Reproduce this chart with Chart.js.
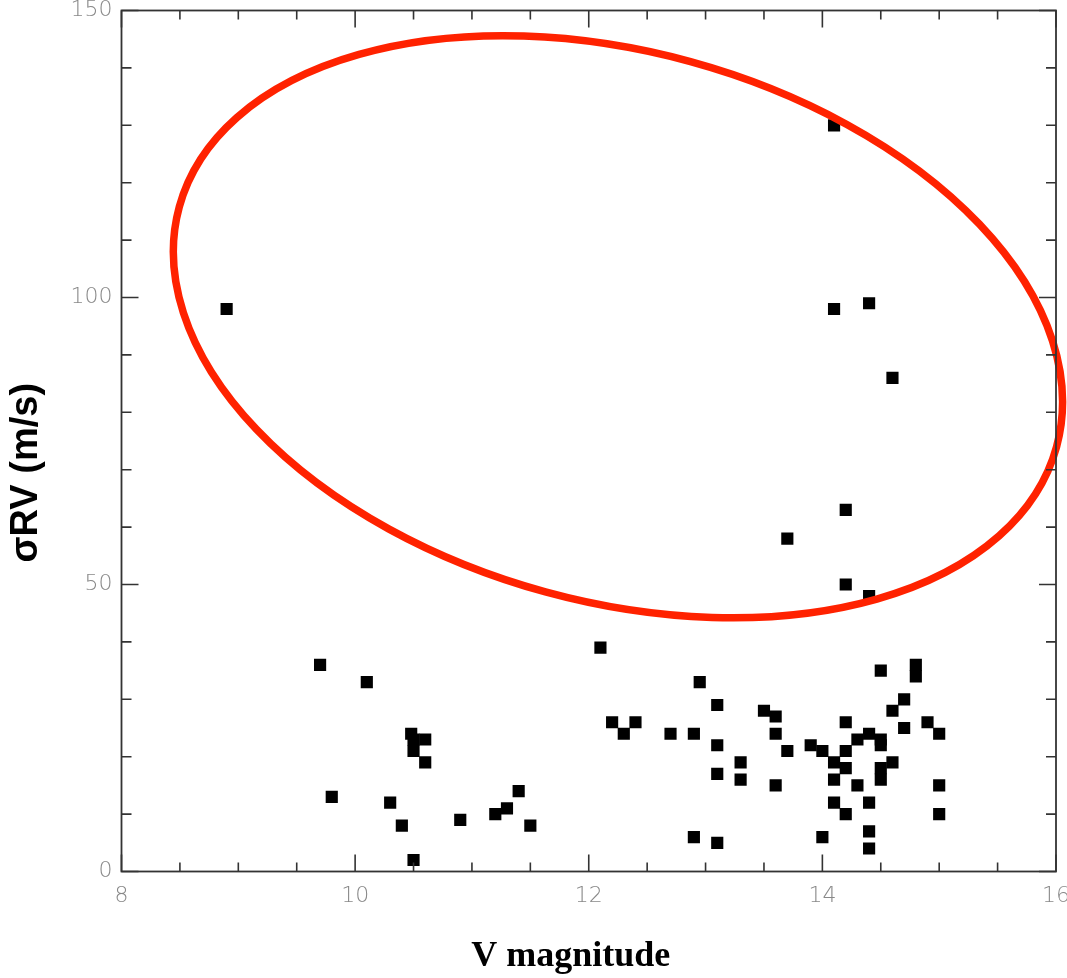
<!DOCTYPE html>
<html><head><meta charset="utf-8">
<script src="https://cdn.jsdelivr.net/npm/chart.js@4.4.1/dist/chart.umd.min.js"></script>
<style>html,body{margin:0;padding:0;background:#fff;} canvas{display:block;}</style>
</head><body>
<canvas id="c" width="1067" height="978"></canvas>
<script>
// V magnitude of each star
const vMag = [
  8.9, 14.1, 14.1, 14.4, 14.6, 13.7, 14.2, 14.2, 14.4,
  9.7, 10.1, 10.48, 10.5, 10.6, 10.5, 10.6, 9.8, 10.3, 10.4, 10.5, 10.9, 11.2, 11.3, 11.4, 11.5,
  12.1, 12.2, 12.3, 12.4, 12.7, 12.9, 12.95, 13.1, 13.1, 13.1, 13.3, 13.3, 12.9, 13.1, 13.5, 13.6, 13.6, 13.7, 13.6, 13.9,
  14.0, 14.1, 14.1, 14.1, 14.0, 14.2, 14.2, 14.2, 14.2, 14.3, 14.3, 14.4, 14.4, 14.4, 14.4,
  14.5, 14.5, 14.5, 14.5, 14.5, 14.6, 14.6, 14.7, 14.7, 14.8, 14.8, 14.9, 15.0, 15.0, 15.0
];
// sigma RV (m/s) of each star
const sigmaRV = [
  98, 130, 98, 99, 86, 58, 63, 50, 48,
  36, 33, 24, 23, 23, 21, 19, 13, 12, 8, 2, 9, 10, 11, 14, 8,
  39, 26, 24, 26, 24, 24, 33, 29, 22, 17, 19, 16, 6, 5, 28, 27, 24, 21, 15, 22,
  21, 19, 16, 12, 6, 26, 21, 18, 10, 23, 15, 24, 12, 7, 4,
  23, 22, 18, 16, 35, 28, 19, 30, 25, 36, 34, 26, 24, 15, 10
];
const xTickLabels = [8, 10, 12, 14, 16];
const yTickLabels = [0, 50, 100, 150];
const xTitle = 'V magnitude';
const yTitle = 'σRV (m/s)';
// highlight ellipse: centre in data units, radii in x-axis units, tilt in degrees
const ellipseCx = 12.25, ellipseCy = 94.9, ellipseRx = 3.893, ellipseRy = 2.353, ellipseTilt = 15.3;

const points = vMag.map((v, i) => ({x: v, y: sigmaRV[i]}));

const framePlugin = {
  id: 'frame',
  afterDatasetsDraw(chart) {
    const {ctx, scales: {x, y}} = chart;
    const u = x.getPixelForValue(1) - x.getPixelForValue(0);
    ctx.save();
    ctx.strokeStyle = 'rgb(255,34,0)';
    ctx.lineWidth = 7.5;
    ctx.beginPath();
    ctx.ellipse(x.getPixelForValue(ellipseCx), y.getPixelForValue(ellipseCy),
      ellipseRx * u, ellipseRy * u, ellipseTilt * Math.PI / 180, 0, Math.PI * 2);
    ctx.stroke();
    ctx.restore();
  },
  afterDraw(chart) {
    const {ctx, chartArea: a, scales: {x, y}} = chart;
    ctx.save();
    ctx.strokeStyle = '#333';
    ctx.lineWidth = 1.6;
    ctx.beginPath();
    x.ticks.forEach(t => {
      const px = x.getPixelForValue(t.value);
      const len = xTickLabels.includes(t.value) ? 17 : 9;
      ctx.moveTo(px, a.bottom); ctx.lineTo(px, a.bottom - len);
      ctx.moveTo(px, a.top); ctx.lineTo(px, a.top + len);
    });
    y.ticks.forEach(t => {
      const py = y.getPixelForValue(t.value);
      const len = yTickLabels.includes(t.value) ? 17 : 10;
      ctx.moveTo(a.left, py); ctx.lineTo(a.left + len, py);
      ctx.moveTo(a.right, py); ctx.lineTo(a.right - len, py);
    });
    ctx.stroke();
    ctx.lineWidth = 1.8;
    ctx.strokeRect(a.left, a.top, a.right - a.left, a.bottom - a.top);
    ctx.restore();
  }
};

new Chart(document.getElementById('c'), {
  type: 'scatter',
  data: {
    datasets: [{
      data: points,
      pointStyle: 'rect',
      pointRadius: 8.6,
      pointHoverRadius: 8.6,
      pointBorderWidth: 0,
      backgroundColor: '#000',
      borderColor: '#000'
    }]
  },
  options: {
    responsive: false,
    animation: false,
    devicePixelRatio: 1,
    layout: {padding: {top: 10.5, right: 11, left: 0, bottom: 0}},
    plugins: {legend: {display: false}, tooltip: {enabled: false}},
    scales: {
      x: {
        type: 'linear', min: 8, max: 16,
        grid: {display: false, drawTicks: false},
        border: {display: false},
        ticks: {
          stepSize: 0.5, autoSkip: false, maxRotation: 0, padding: 12,
          color: '#888', font: {family: 'DejaVu Sans', size: 22, weight: 200},
          callback: v => xTickLabels.includes(v) ? String(v) : ''
        },
        title: {
          display: true, text: xTitle + '    ', color: '#000', padding: {top: 0, bottom: 0},
          font: {family: 'Liberation Serif', size: 36, weight: 'bold'}
        },
        afterFit(s) { s.height = 106.5; s.paddingLeft = 0; s.paddingRight = 0; }
      },
      y: {
        type: 'linear', min: 0, max: 150,
        grid: {display: false, drawTicks: false},
        border: {display: false},
        ticks: {
          stepSize: 10, autoSkip: false, padding: 9,
          color: '#888', font: {family: 'DejaVu Sans', size: 22, weight: 200},
          callback: v => yTickLabels.includes(v) ? String(v) : ''
        },
        title: {
          display: true, text: yTitle + '      ', color: '#000', padding: {top: 4, bottom: 0},
          font: {family: 'Liberation Sans', size: 38, weight: 'bold'}
        },
        afterFit(s) { s.width = 121.5; s.paddingTop = 0; s.paddingBottom = 0; }
      }
    }
  },
  plugins: [framePlugin]
});
</script>
</body></html>
